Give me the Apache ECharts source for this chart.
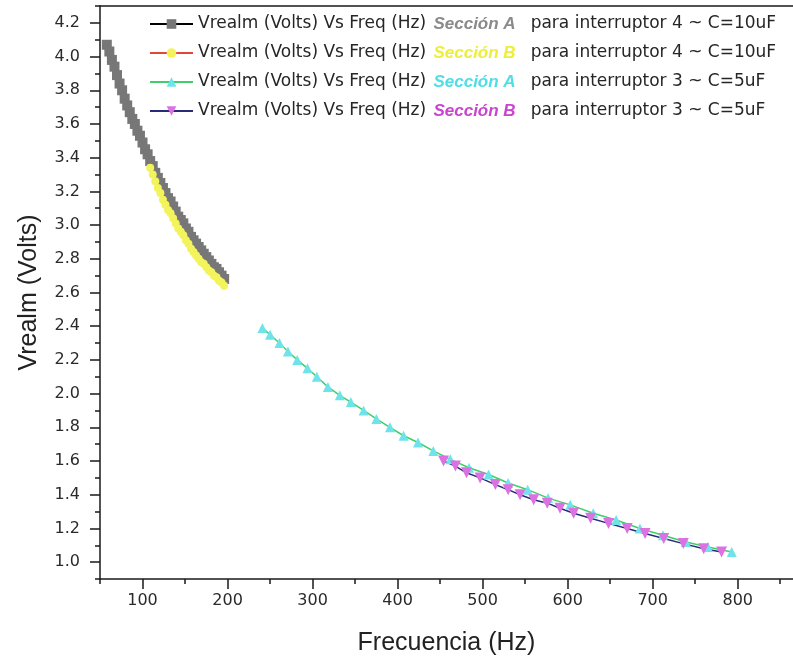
<!DOCTYPE html>
<html>
<head>
<meta charset="utf-8">
<title>Vrealm vs Frecuencia</title>
<script src="https://cdn.jsdelivr.net/npm/echarts@6/dist/echarts.min.js"></script>
<style>
  html, body { margin: 0; padding: 0; background: #fff; }
  #chart { width: 793px; height: 658px; }
</style>
</head>
<body>
<div id="chart"></div>
<script>
// Interruptor 4 (C = 10 uF), sección A
const freqA4 = [58, 61, 64, 67, 70, 73, 76, 79, 82, 85, 88, 91, 94, 97, 100, 103, 106, 109, 112, 115, 118, 121, 124, 127, 130, 133, 136, 139, 142, 145, 148, 151, 154, 157, 160, 163, 166, 169, 172, 175, 178, 181, 184, 187, 190, 193, 196];
const voltA4 = [4.07, 4.03, 3.98, 3.94, 3.89, 3.84, 3.80, 3.75, 3.71, 3.67, 3.63, 3.60, 3.56, 3.53, 3.49, 3.45, 3.42, 3.38, 3.35, 3.31, 3.28, 3.25, 3.22, 3.19, 3.16, 3.14, 3.11, 3.08, 3.05, 3.03, 3.01, 2.98, 2.96, 2.93, 2.91, 2.89, 2.87, 2.85, 2.83, 2.81, 2.79, 2.77, 2.75, 2.74, 2.72, 2.70, 2.68];

// Interruptor 4 (C = 10 uF), sección B
const freqB4 = [109, 112, 115, 118, 121, 124, 127, 130, 133, 136, 139, 142, 145, 148, 151, 154, 157, 160, 163, 166, 169, 172, 175, 178, 181, 184, 187, 190, 193, 196];
const voltB4 = [3.34, 3.30, 3.26, 3.22, 3.19, 3.15, 3.12, 3.09, 3.07, 3.04, 3.01, 2.98, 2.96, 2.94, 2.91, 2.89, 2.86, 2.84, 2.82, 2.80, 2.78, 2.77, 2.75, 2.73, 2.72, 2.70, 2.69, 2.67, 2.66, 2.64];

// Interruptor 3 (C = 5 uF), sección A
const freqA3 = [241, 250, 261, 271, 282, 294, 305, 318, 332, 345, 360, 375, 391, 407, 424, 442, 462, 484, 507, 530, 553, 577, 603, 630, 657, 685, 712, 739, 765, 793];
const voltA3 = [2.39, 2.35, 2.30, 2.25, 2.20, 2.15, 2.10, 2.04, 1.99, 1.95, 1.90, 1.85, 1.80, 1.75, 1.71, 1.66, 1.61, 1.56, 1.52, 1.47, 1.43, 1.38, 1.34, 1.29, 1.25, 1.20, 1.16, 1.12, 1.09, 1.06];

// Interruptor 3 (C = 5 uF), sección B
const freqB3 = [454, 468, 481, 497, 515, 530, 544, 560, 576, 591, 607, 627, 648, 670, 691, 713, 736, 760, 781];
const voltB3 = [1.60, 1.57, 1.53, 1.50, 1.46, 1.43, 1.40, 1.37, 1.35, 1.32, 1.29, 1.26, 1.23, 1.20, 1.17, 1.14, 1.11, 1.08, 1.06];

// Axis ticks
const xMajorTicks = [100, 200, 300, 400, 500, 600, 700, 800];
const xMinorTicks = [50, 150, 250, 350, 450, 550, 650, 750, 850];
const yMajorTicks = [1.0, 1.2, 1.4, 1.6, 1.8, 2.0, 2.2, 2.4, 2.6, 2.8, 3.0, 3.2, 3.4, 3.6, 3.8, 4.0, 4.2];
const yMinorTicks = [0.9, 1.1, 1.3, 1.5, 1.7, 1.9, 2.1, 2.3, 2.5, 2.7, 2.9, 3.1, 3.3, 3.5, 3.7, 3.9, 4.1, 4.3];

// Legend text pieces
const legendPrefix = 'Vrealm (Volts) Vs Freq (Hz)';
const sectionNames = ['Sección A', 'Sección B', 'Sección A', 'Sección B'];
const legendSuffixes = ['para interruptor 4 ~ C=10uF', 'para interruptor 4 ~ C=10uF', 'para interruptor 3 ~ C=5uF', 'para interruptor 3 ~ C=5uF'];
const seriesNames = sectionNames.map((s, i) => legendPrefix + ' ' + s + ' ' + legendSuffixes[i]);

const X_MIN = 50, X_MAX = 865, Y_MIN = 0.9, Y_MAX = 4.3;
const AXIS_COLOR = '#1a1a1a';
const sectionColors = ['#8a8a8a', '#eeee3a', '#4fdde6', '#c944cf'];

function pairs(xs, ys) { return xs.map((x, i) => [x, ys[i]]); }

const chart = echarts.init(document.getElementById('chart'), null, { renderer: 'canvas' });

const rich = {
  a: { fontFamily: 'DejaVu Sans', fontSize: 17, color: '#262626' }
};
sectionColors.forEach((c, i) => {
  rich['s' + i] = {
    fontFamily: 'Liberation Sans', fontSize: 17, fontWeight: 'bold', fontStyle: 'italic',
    color: c, padding: [0, 15, 0, 4]
  };
});

const baseAxis = {
  type: 'value',
  splitLine: { show: false },
  axisLine: { show: false },
  axisTick: { show: false },
  axisLabel: { show: false }
};

const option = {
  animation: false,
  backgroundColor: '#ffffff',
  grid: { left: 100, top: 6, right: 0, bottom: 79, containLabel: false, outerBoundsMode: 'none' },
  legend: {
    orient: 'vertical',
    left: 144,
    top: 9,
    itemWidth: 43,
    itemHeight: 12,
    itemGap: 9,
    selectedMode: false,
    data: seriesNames,
    formatter: (name) => {
      const i = seriesNames.indexOf(name);
      return '{a|' + legendPrefix + '} {s' + i + '|' + sectionNames[i] + '}{a|' + legendSuffixes[i] + '}';
    },
    textStyle: { rich: rich, lineHeight: 20 }
  },
  xAxis: [
    {
      type: 'value', position: 'bottom', min: X_MIN, max: X_MAX,
      name: 'Frecuencia (Hz)', nameLocation: 'middle', nameGap: 52,
      nameTextStyle: { fontFamily: 'Liberation Sans', fontSize: 25, color: '#222' },
      splitLine: { show: false },
      axisLine: { show: true, onZero: false, lineStyle: { color: AXIS_COLOR, width: 1.5 } },
      axisTick: { show: true, inside: false, length: 10, customValues: xMajorTicks, lineStyle: { color: AXIS_COLOR, width: 1.5 } },
      axisLabel: { show: true, margin: 14, customValues: xMajorTicks, fontFamily: 'DejaVu Sans', fontSize: 16, color: '#2a2a2a' }
    },
    Object.assign({}, baseAxis, {
      position: 'bottom', min: X_MIN, max: X_MAX,
      axisTick: { show: true, length: 5, customValues: xMinorTicks, lineStyle: { color: AXIS_COLOR, width: 1.5 } }
    }),
    Object.assign({}, baseAxis, {
      position: 'top', min: X_MIN, max: X_MAX,
      axisLine: { show: true, onZero: false, lineStyle: { color: AXIS_COLOR, width: 1.5 } }
    })
  ],
  yAxis: [
    {
      type: 'value', position: 'left', min: Y_MIN, max: Y_MAX,
      name: 'Vrealm (Volts)', nameLocation: 'middle', nameGap: 58,
      nameTextStyle: { fontFamily: 'Liberation Sans', fontSize: 25, color: '#222' },
      splitLine: { show: false },
      axisLine: { show: true, onZero: false, lineStyle: { color: AXIS_COLOR, width: 1.5 } },
      axisTick: { show: true, inside: false, length: 10, customValues: yMajorTicks, lineStyle: { color: AXIS_COLOR, width: 1.5 } },
      axisLabel: {
        show: true, margin: 20, customValues: yMajorTicks,
        fontFamily: 'DejaVu Sans', fontSize: 16, color: '#2a2a2a',
        formatter: (v) => v.toFixed(1)
      }
    },
    Object.assign({}, baseAxis, {
      position: 'left', min: Y_MIN, max: Y_MAX,
      axisTick: { show: true, length: 5, customValues: yMinorTicks, lineStyle: { color: AXIS_COLOR, width: 1.5 } }
    })
  ],
  series: [
    {
      name: seriesNames[0], type: 'line', data: pairs(freqA4, voltA4),
      symbol: 'rect', symbolSize: 10, showSymbol: true,
      lineStyle: { color: '#000000', width: 1.5 },
      itemStyle: { color: '#777777' }
    },
    {
      name: seriesNames[1], type: 'line', data: pairs(freqB4, voltB4),
      symbol: 'circle', symbolSize: 8, showSymbol: true,
      lineStyle: { color: '#e0473a', width: 1.5 },
      itemStyle: { color: '#f3f35c' }
    },
    {
      name: seriesNames[2], type: 'line', data: pairs(freqA3, voltA3),
      symbol: 'triangle', symbolSize: 10, showSymbol: true,
      lineStyle: { color: '#3fcf6a', width: 1.5 },
      itemStyle: { color: '#6ee4ea' }
    },
    {
      name: seriesNames[3], type: 'line', data: pairs(freqB3, voltB3),
      symbol: 'triangle', symbolRotate: 180, symbolSize: 11, showSymbol: true,
      lineStyle: { color: '#2a2a7a', width: 1.5 },
      itemStyle: { color: '#dc72e2' }
    }
  ]
};

chart.setOption(option);
</script>
</body>
</html>
